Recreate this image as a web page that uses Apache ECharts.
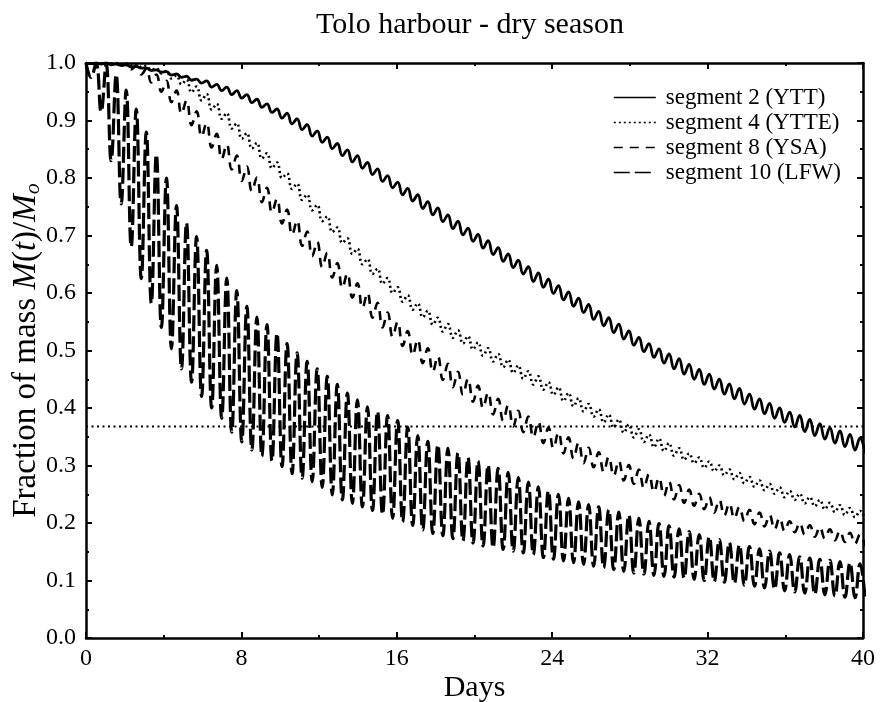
<!DOCTYPE html>
<html>
<head>
<meta charset="utf-8">
<title>Tolo harbour - dry season</title>
<script src="https://cdn.jsdelivr.net/npm/echarts@6/dist/echarts.min.js"></script>
<style>
  html, body { margin: 0; padding: 0; background: #fff; }
  #chart { width: 880px; height: 702px; }
</style>
</head>
<body>
<div id="chart"></div>
<script>
// Semi-diurnal tide: one high and one low sample per 12.42 h cycle.
const HALF_PERIOD = 0.25875; // days

const seriesNames = ['segment 2 (YTT)', 'segment 4 (YTTE)', 'segment 8 (YSA)', 'segment 10 (LFW)'];

// Fraction of mass at each tidal high (t = k * 0.5175 d) and low (half a cycle later)
const seg2High = [1.000,1.000,1.000,0.998,0.997,0.994,0.991,0.988,0.985,0.981,0.977,0.972,0.969,0.963,0.958,0.952,0.945,0.937,0.929,0.920,
  0.913,0.903,0.893,0.882,0.871,0.860,0.849,0.839,0.827,0.816,0.804,0.793,0.782,0.771,0.759,0.748,0.736,0.725,0.713,0.702,
  0.691,0.679,0.668,0.657,0.646,0.635,0.624,0.613,0.602,0.591,0.580,0.568,0.557,0.546,0.534,0.523,0.512,0.503,0.494,0.486,
  0.476,0.467,0.459,0.450,0.442,0.434,0.424,0.416,0.408,0.400,0.393,0.387,0.380,0.373,0.366,0.360,0.354,0.348];
const seg2Low = [0.999,0.998,0.997,0.996,0.993,0.991,0.987,0.984,0.979,0.975,0.970,0.965,0.958,0.952,0.945,0.939,0.931,0.923,0.914,0.904,
  0.894,0.884,0.873,0.862,0.851,0.839,0.828,0.817,0.806,0.794,0.783,0.771,0.760,0.747,0.736,0.724,0.712,0.701,0.690,0.678,
  0.667,0.655,0.644,0.633,0.620,0.610,0.599,0.588,0.577,0.566,0.554,0.543,0.531,0.520,0.509,0.498,0.488,0.478,0.468,0.459,
  0.450,0.441,0.433,0.424,0.416,0.407,0.398,0.390,0.382,0.375,0.367,0.359,0.352,0.346,0.339,0.333,0.327,0.321];

const seg4High = [1.000,1.000,1.000,1.000,0.999,0.998,0.995,0.991,0.986,0.978,0.971,0.959,0.946,0.929,0.913,0.895,0.878,0.861,0.843,0.827,
  0.808,0.790,0.771,0.753,0.733,0.714,0.695,0.677,0.659,0.642,0.626,0.610,0.596,0.582,0.569,0.557,0.546,0.535,0.525,0.514,
  0.504,0.494,0.484,0.474,0.464,0.455,0.445,0.436,0.426,0.417,0.407,0.398,0.389,0.380,0.371,0.363,0.354,0.347,0.339,0.330,
  0.321,0.314,0.307,0.300,0.293,0.287,0.280,0.274,0.268,0.262,0.256,0.251,0.245,0.240,0.235,0.231,0.226,0.221];
const seg4Low = [0.999,0.999,0.999,0.998,0.996,0.993,0.988,0.982,0.973,0.963,0.949,0.935,0.919,0.903,0.886,0.868,0.851,0.834,0.817,0.800,
  0.781,0.762,0.744,0.725,0.706,0.687,0.668,0.650,0.633,0.616,0.600,0.585,0.571,0.558,0.545,0.533,0.522,0.512,0.502,0.491,
  0.481,0.471,0.461,0.451,0.441,0.432,0.423,0.412,0.403,0.394,0.385,0.375,0.366,0.357,0.349,0.341,0.332,0.325,0.317,0.310,
  0.304,0.296,0.290,0.283,0.276,0.269,0.263,0.257,0.251,0.245,0.240,0.234,0.229,0.224,0.219,0.214,0.210,0.205];

const seg8High = [1.000,1.000,1.000,0.999,0.998,0.995,0.990,0.980,0.969,0.952,0.935,0.916,0.896,0.877,0.858,0.839,0.820,0.801,0.783,0.764,
  0.745,0.726,0.707,0.689,0.670,0.652,0.634,0.617,0.600,0.583,0.566,0.550,0.534,0.519,0.504,0.490,0.477,0.463,0.451,0.439,
  0.427,0.416,0.405,0.395,0.385,0.376,0.366,0.358,0.349,0.340,0.331,0.323,0.315,0.308,0.301,0.293,0.285,0.279,0.272,0.266,
  0.258,0.251,0.245,0.240,0.234,0.228,0.223,0.218,0.214,0.209,0.203,0.200,0.196,0.193,0.189,0.186,0.183,0.180];
const seg8Low = [0.999,0.999,0.998,0.996,0.989,0.980,0.966,0.950,0.932,0.912,0.892,0.872,0.853,0.833,0.815,0.795,0.777,0.758,0.740,0.721,
  0.701,0.682,0.664,0.645,0.627,0.609,0.592,0.574,0.557,0.540,0.524,0.508,0.492,0.478,0.463,0.449,0.436,0.423,0.411,0.400,
  0.389,0.378,0.368,0.358,0.349,0.339,0.330,0.321,0.312,0.304,0.297,0.289,0.282,0.274,0.268,0.261,0.254,0.247,0.241,0.235,
  0.230,0.224,0.218,0.213,0.208,0.203,0.198,0.194,0.189,0.186,0.184,0.180,0.176,0.173,0.170,0.167,0.164,0.160];

const seg10High = [1.000,1.000,0.998,0.980,0.953,0.920,0.880,0.841,0.800,0.752,0.722,0.698,0.674,0.648,0.626,0.604,0.577,0.558,0.545,0.530,
  0.512,0.496,0.481,0.468,0.455,0.441,0.426,0.414,0.402,0.394,0.387,0.378,0.367,0.352,0.342,0.336,0.330,0.322,0.314,0.308,
  0.301,0.295,0.288,0.279,0.271,0.263,0.256,0.250,0.243,0.237,0.232,0.228,0.223,0.219,0.214,0.208,0.203,0.199,0.195,0.190,
  0.185,0.180,0.176,0.171,0.166,0.162,0.159,0.155,0.151,0.148,0.145,0.141,0.139,0.137,0.135,0.133,0.131,0.129];
const seg10Low = [0.975,0.915,0.830,0.755,0.680,0.625,0.582,0.540,0.503,0.468,0.445,0.420,0.400,0.382,0.358,0.341,0.327,0.316,0.308,0.298,
  0.286,0.278,0.272,0.262,0.249,0.240,0.234,0.228,0.222,0.215,0.208,0.202,0.196,0.188,0.182,0.178,0.173,0.169,0.165,0.160,
  0.157,0.154,0.151,0.148,0.145,0.140,0.137,0.134,0.131,0.128,0.125,0.122,0.119,0.116,0.113,0.111,0.109,0.107,0.106,0.104,
  0.102,0.100,0.098,0.097,0.095,0.092,0.090,0.087,0.085,0.082,0.080,0.078,0.076,0.075,0.073,0.071,0.070,0.068];

// e-folding level 1/e
const referenceLevel = [0.368];

const xTicks = [0, 8, 16, 24, 32, 40];

// Merge highs and lows into one time series
function tidalSeries(high, low) {
  const out = [];
  for (let k = 0; k < high.length; k++) {
    out.push([2 * k * HALF_PERIOD, high[k]]);
    if (k < low.length) out.push([(2 * k + 1) * HALF_PERIOD, low[k]]);
  }
  return out;
}

const SERIF = '"Liberation Serif", "DejaVu Serif", serif';
const black = '#000';

const styles = [
  { width: 2.8, type: 'solid' },
  { width: 2.6, type: [2, 3] },
  { width: 2.6, type: [9, 7] },
  { width: 3.2, type: [16, 5] }
];
const dataSets = [
  tidalSeries(seg2High, seg2Low),
  tidalSeries(seg4High, seg4Low),
  tidalSeries(seg8High, seg8Low),
  tidalSeries(seg10High, seg10Low)
];

const series = seriesNames.map((name, i) => ({
  name: name,
  type: 'line',
  data: dataSets[i],
  symbol: 'none',
  smooth: 0.45,
  clip: true,
  animation: false,
  lineStyle: { color: black, width: styles[i].width, type: styles[i].type, cap: 'butt' },
  itemStyle: { color: black },
  z: 3 + i
}));

series.push({
  name: 'ref',
  type: 'line',
  data: [[0, referenceLevel[0]], [40, referenceLevel[0]]],
  symbol: 'none',
  animation: false,
  lineStyle: { color: black, width: 2, type: [2, 3.5] },
  z: 2
});

const axisLine = { show: true, onZero: false, lineStyle: { color: black, width: 2.5 } };
const tick = { inside: true, length: 6, lineStyle: { color: black, width: 2 } };
const minor = { show: true, splitNumber: 2, length: 3, lineStyle: { color: black, width: 2 } };

const option = {
  backgroundColor: '#fff',
  animation: false,
  title: {
    text: 'Tolo harbour - dry season',
    left: 465, top: 5, textAlign: 'center',
    textStyle: { fontFamily: SERIF, fontSize: 30, fontWeight: 'normal', color: black }
  },
  grid: { left: 86, right: 17, top: 63, bottom: 64, containLabel: false, outerBoundsMode: 'none' },
  legend: {
    data: seriesNames,
    orient: 'vertical',
    left: 608, top: 81,
    itemWidth: 42, itemHeight: 14, itemGap: 2,
    textStyle: { fontFamily: SERIF, fontSize: 23, color: black, padding: [0, 0, 0, 5] },
    lineStyle: { width: 1.6 },
    itemStyle: { opacity: 0 },
    selectedMode: false
  },
  xAxis: [{
    type: 'value', min: 0, max: 40, interval: 8,
    name: 'Days', nameLocation: 'middle', nameGap: 35, nameMoveOverlap: false,
    nameTextStyle: { fontFamily: SERIF, fontSize: 30, color: black },
    axisLine: axisLine, axisTick: tick, minorTick: minor,
    axisLabel: { fontFamily: SERIF, fontSize: 24, color: black, margin: 9,
      formatter: v => xTicks.indexOf(v) >= 0 ? String(v) : '' },
    splitLine: { show: false }
  }, {
    type: 'value', min: 0, max: 40, interval: 8, position: 'top',
    axisLine: axisLine, axisTick: tick, minorTick: minor,
    axisLabel: { show: false }, splitLine: { show: false }
  }],
  yAxis: [{
    type: 'value', min: 0, max: 1, interval: 0.1,
    name: '{n|Fraction of mass }{i|M}{n|(}{i|t}{n|)/}{i|M}{s|o}',
    nameLocation: 'middle', nameGap: 42, nameRotate: 90, nameMoveOverlap: false,
    nameTextStyle: {
      fontFamily: SERIF, fontSize: 33, color: black,
      rich: {
        n: { fontFamily: SERIF, fontSize: 33, color: black },
        i: { fontFamily: SERIF, fontSize: 33, fontStyle: 'italic', color: black },
        s: { fontFamily: SERIF, fontSize: 22, fontStyle: 'italic', color: black, verticalAlign: 'bottom', padding: [13, 0, 0, 0] }
      }
    },
    axisLine: axisLine, axisTick: tick, minorTick: minor,
    axisLabel: { fontFamily: SERIF, fontSize: 24, color: black, margin: 10, formatter: v => v.toFixed(1) },
    splitLine: { show: false }
  }, {
    type: 'value', min: 0, max: 1, interval: 0.1, position: 'right',
    axisLine: axisLine, axisTick: tick, minorTick: minor,
    axisLabel: { show: false }, splitLine: { show: false }
  }],
  series: series
};

const chart = echarts.init(document.getElementById('chart'), null, { renderer: 'canvas' });
chart.setOption(option);
</script>
</body>
</html>
